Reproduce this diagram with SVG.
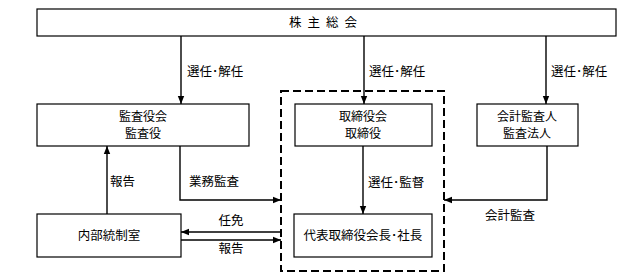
<svg xmlns="http://www.w3.org/2000/svg" width="623" height="280" viewBox="0 0 623 280">
<style>
.box{fill:#fff;stroke:#000;stroke-width:1.2}
.ln{fill:none;stroke:#000;stroke-width:1.4}
text{font-family:"Noto Sans CJK JP","Noto Sans",sans-serif;font-size:12.5px;fill:#000}
.c{text-anchor:middle}
.t2{font-size:12px}
</style>
<defs>
<marker id="ah" viewBox="0 0 8 8" refX="8" refY="4" markerWidth="8" markerHeight="8" markerUnits="userSpaceOnUse" orient="auto">
<path d="M0,0.8 L8,4 L0,7.2 Z" fill="#000"/>
</marker>
</defs>
<rect x="281" y="91" width="163" height="180" fill="none" stroke="#000" stroke-width="2" stroke-dasharray="8,4"/>
<g id="connectors">
<line class="ln" x1="181" y1="36" x2="181" y2="104" marker-end="url(#ah)"/>
<line class="ln" x1="364" y1="36" x2="364" y2="104" marker-end="url(#ah)"/>
<line class="ln" x1="546" y1="36" x2="546" y2="104" marker-end="url(#ah)"/>
<line class="ln" x1="363" y1="146" x2="363" y2="214" marker-end="url(#ah)"/>
<line class="ln" x1="107" y1="214" x2="107" y2="146" marker-end="url(#ah)"/>
<polyline class="ln" points="180,146 180,200 281,200" marker-end="url(#ah)"/>
<polyline class="ln" points="547,146 547,200 444,200" marker-end="url(#ah)"/>
<line class="ln" x1="281" y1="232" x2="181" y2="232" marker-end="url(#ah)"/>
<line class="ln" x1="181" y1="240" x2="281" y2="240" marker-end="url(#ah)"/>
<text x="187" y="76">選任･解任</text>
<text x="369" y="76">選任･解任</text>
<text x="551" y="76">選任･解任</text>
<text x="368" y="187">選任･監督</text>
<text x="110" y="186">報告</text>
<text x="189" y="186">業務監査</text>
<text x="231" y="225" class="c">任免</text>
<text x="231" y="253" class="c">報告</text>
<text x="510" y="220" class="c">会計監査</text>
</g>
<g id="shareholders">
<rect class="box" x="37" y="9" width="579" height="27"/>
<text x="326" y="27" class="c" letter-spacing="6">株主総会</text>
</g>
<g id="auditors">
<rect class="box" x="37" y="104" width="212" height="42"/>
<text x="143" y="121" class="c t2">監査役会</text>
<text x="143" y="138" class="c t2">監査役</text>
</g>
<g id="board">
<rect class="box" x="295" y="104" width="137" height="42"/>
<text x="363" y="121" class="c t2">取締役会</text>
<text x="363" y="138" class="c t2">取締役</text>
</g>
<g id="accounting">
<rect class="box" x="477" y="104" width="101" height="42"/>
<text x="527" y="121" class="c t2">会計監査人</text>
<text x="527" y="138" class="c t2">監査法人</text>
</g>
<g id="internal">
<rect class="box" x="37" y="214" width="144" height="43"/>
<text x="109" y="240" class="c">内部統制室</text>
</g>
<g id="president">
<rect class="box" x="294" y="214" width="138" height="43"/>
<text x="363" y="240" class="c">代表取締役会長･社長</text>
</g>
</svg>
